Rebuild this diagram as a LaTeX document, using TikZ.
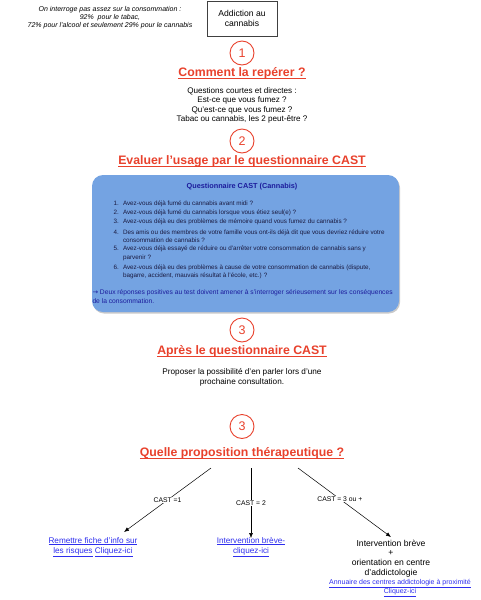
\documentclass[tikz,border=0pt]{standalone}
\usepackage{fontspec}
\setmainfont{Liberation Sans}
\newfontfamily\dejavu{DejaVu Sans}
\usetikzlibrary{arrows.meta,shadows}
\definecolor{tred}{HTML}{E8412C}
\definecolor{cblue}{HTML}{74A3E2}
\definecolor{ctitle}{HTML}{1C1C9C}
\definecolor{ctext}{HTML}{1A1A40}
\definecolor{clink}{HTML}{2E2EEE}
\newcommand{\fs}[2]{\fontsize{#1}{#2}\selectfont}
\begin{document}
\begin{tikzpicture}[x=1pt,y=-1pt,
  every node/.style={inner sep=0pt, outer sep=0pt},
  numcirc/.style={circle, draw=tred, line width=0.9pt, minimum size=24pt, text=tred, font=\fs{12.5}{12.5}},
  bigtitle/.style={text=tred, font=\fs{12.3}{14}\bfseries},
  ul/.style={tred, line width=1pt},
  item/.style={anchor=base west, font=\fs{6.3}{7}, text=ctext},
  inum/.style={anchor=base east, font=\fs{6.3}{7}, text=ctext},
  lnk/.style={text=clink, align=center},
  lab/.style={fill=white, inner sep=1pt, font=\fs{6.8}{7}},
  arr/.style={-{Latex[length=5pt,width=4pt]}, line width=0.5pt}]
\useasboundingbox (0,0) rectangle (481,600);

% top
\node[align=center, font=\fs{7}{8.2}\itshape] (note) at (110,17.5)
  {On interroge pas assez sur la consommation :\\92\%\ \ pour le tabac,\\72\% pour l'alcool et seulement 29\% pour le cannabis};
\node[draw=black!75, line width=0.6pt, minimum width=70pt, minimum height=35pt, align=center, font=\fs{8.6}{10.5}] (box) at (242,18.5)
  {Addiction au\\cannabis};

% step 1
\node[numcirc] (c1) at (242,53) {1};
\node[bigtitle] (t1) at (242,73) {Comment la repérer ?};
\draw[ul] ([yshift=-2pt]t1.base west) -- ([yshift=-2pt]t1.base east);
\node[align=center, font=\fs{8.1}{9.4}] (q1) at (242,105.5)
  {Questions courtes et directes :\\Est-ce que vous fumez ?\\Qu'est-ce que vous fumez ?\\Tabac ou cannabis, les 2 peut-être ?};

% step 2
\node[numcirc] (c2) at (242,141) {2};
\node[bigtitle] (t2) at (242,161) {Evaluer l'usage par le questionnaire CAST};
\draw[ul] ([yshift=-2pt]t2.base west) -- ([yshift=-2pt]t2.base east);

\node[fill=cblue, rounded corners=11pt, minimum width=307pt, minimum height=137pt,
  drop shadow={shadow xshift=1pt, shadow yshift=-1.5pt, opacity=0.35, fill=black!60}] (cast) at (245.5,243.5) {};
\node[text=ctitle, font=\fs{7.3}{8}\bfseries] (ct) at (242,187) {Questionnaire CAST (Cannabis)};

\node[inum] (n1) at (119,205) {1.}; \node[item] (i1) at (123,205) {Avez-vous déjà fumé du cannabis avant midi ?};
\node[inum] (n2) at (119,214) {2.}; \node[item] (i2) at (123,214) {Avez-vous déjà fumé du cannabis lorsque vous étiez seul(e) ?};
\node[inum] (n3) at (119,223) {3.}; \node[item] (i3) at (123,223) {Avez-vous déjà eu des problèmes de mémoire quand vous fumez du cannabis ?};
\node[inum] (n4) at (119,234) {4.}; \node[item] (i4) at (123,234) {Des amis ou des membres de votre famille vous ont-ils déjà dit que vous devriez réduire votre};
\node[item] (i4b) at (123,242.5) {consommation de cannabis ?};
\node[inum] (n5) at (119,250.5) {5.}; \node[item] (i5) at (123,250.5) {Avez-vous déjà essayé de réduire ou d'arrêter votre consommation de cannabis sans y};
\node[item] (i5b) at (123,259) {parvenir ?};
\node[inum] (n6) at (119,269) {6.}; \node[item] (i6) at (123,269) {Avez-vous déjà eu des problèmes à cause de votre consommation de cannabis (dispute,};
\node[item] (i6b) at (123,277.5) {bagarre, accident, mauvais résultat à l'école, etc.) ?};

\node[item, text=ctitle, font=\fs{6.7}{7}] (con1) at (92.5,294) {{\dejavu →} Deux réponses positives au test doivent amener à s'interroger sérieusement sur les conséquences};
\node[item, text=ctitle, font=\fs{6.7}{7}] (con2) at (92.5,303) {de la consommation.};

% step 3
\node[numcirc] (c3) at (242,330) {3};
\node[bigtitle] (t3) at (242,351) {Après le questionnaire CAST};
\draw[ul] ([yshift=-2pt]t3.base west) -- ([yshift=-2pt]t3.base east);
\node[align=center, font=\fs{8.2}{9.4}] (p3) at (242,377.5)
  {Proposer la possibilité d'en parler lors d'une\\prochaine consultation.};

% step 3b
\node[numcirc] (c4) at (242,426.5) {3};
\node[bigtitle] (t4) at (242,453) {Quelle proposition thérapeutique ?};
\draw[ul] ([yshift=-2pt]t4.base west) -- ([yshift=-2pt]t4.base east);

% outcomes
\node[lnk, font=\fs{8.2}{10}] (o1) at (93,547) {\underline{Remettre fiche d'info sur}\\\underline{les risques}\ \underline{Cliquez-ici}};
\node[lnk, font=\fs{8.2}{10}] (o2) at (251,547) {\underline{Intervention brève-}\\\underline{cliquez-ici}};
\node[align=center, font=\fs{8.6}{9.6}] (o3) at (391,558.5) {Intervention brève\\+\\orientation en centre\\d'addictologie};
\node[lnk, font=\fs{7}{8.5}] (o3l) at (400,588) {\underline{Annuaire des centres addictologie à proximité}\\\underline{Cliquez-ici}};

\coordinate (s1) at (211,468); \coordinate (e1) at (124,532);
\coordinate (s2) at (251,468); \coordinate (e2) at (251,538);
\coordinate (s3) at (298,468); \coordinate (e3) at (391,537);
\draw[arr] (s1) -- node[lab, pos=0.5] (l1) {CAST =1} (e1);
\draw[arr] (s2) -- node[lab, pos=0.5] (l2) {CAST = 2} (e2);
\draw[arr] (s3) -- node[lab, pos=0.45] (l3) {CAST = 3 ou +} (e3);
\end{tikzpicture}
\end{document}
